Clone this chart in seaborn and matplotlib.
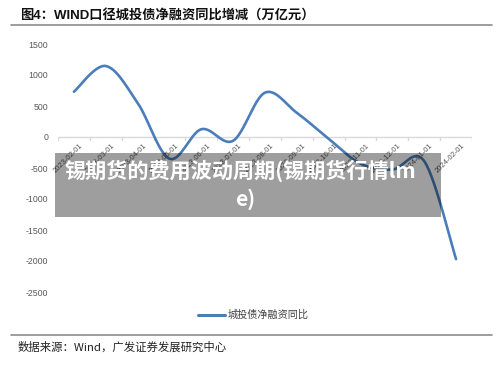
import numpy as np
import pandas as pd
import matplotlib
matplotlib.use("Agg")
import matplotlib.pyplot as plt
import seaborn as sns
from matplotlib.lines import Line2D
from matplotlib.patches import Rectangle

sns.set_theme(style="white")
plt.rcParams['font.family'] = ['Liberation Sans', 'Noto Sans CJK SC', 'DejaVu Sans']

# ---- data ----
dates = ["2023-02-01", "2023-03-01", "2023-04-01", "2023-05-01", "2023-06-01",
         "2023-07-01", "2023-08-01", "2023-09-01", "2023-10-01", "2023-11-01",
         "2023-12-01", "2024-01-01", "2024-02-01"]
values = [730, 1145, 550, -350, 125, -60, 715, 390, -30, -430, -525, -390, -1970]
yticks = [1500, 1000, 500, 0, -500, -1000, -1500, -2000, -2500]
series_name = "城投债净融资同比"
title = "图4：WIND口径城投债净融资同比增减（万亿元）"
source = "数据来源：Wind，广发证券发展研究中心"
overlay1 = "锡期货的费用波动周期(锡期货行情lm"
overlay2 = "e)"

# ---- smoothed curve (Excel-style Catmull-Rom through the data points) ----
def catmull_rom(x, y, n=30):
    x = np.asarray(x, float); y = np.asarray(y, float)
    px = np.concatenate([[x[0]], x, [x[-1]]])
    py = np.concatenate([[y[0]], y, [y[-1]]])
    xs, ys = [], []
    t = np.linspace(0, 1, n)
    for i in range(1, len(px) - 2):
        p0, p1, p2, p3 = (np.array([px[j], py[j]]) for j in (i - 1, i, i + 1, i + 2))
        c1 = p1 + (p2 - p0) / 6
        c2 = p2 - (p3 - p1) / 6
        b = ((1 - t) ** 3)[:, None] * p1 + (3 * (1 - t) ** 2 * t)[:, None] * c1 \
            + (3 * (1 - t) * t ** 2)[:, None] * c2 + (t ** 3)[:, None] * p2
        xs.append(b[:, 0]); ys.append(b[:, 1])
    return np.concatenate(xs), np.concatenate(ys)

xpos = np.arange(len(dates))
sx, sy = catmull_rom(xpos, values)
df = pd.DataFrame({"x": sx, "y": sy})

W, H = 500, 372
fig = plt.figure(figsize=(W / 100, H / 100), dpi=100)
fig.patch.set_facecolor("white")

ax = fig.add_axes([58 / W, 1 - 292 / H, (472 - 58) / W, (292 - 44) / H])
sns.lineplot(data=df, x="x", y="y", ax=ax, color="#4a7ebb", linewidth=1.9,
             sort=False, estimator=None)

ax.set_xlim(-0.5, len(dates) - 0.5)
ax.set_ylim(-2500, 1500)
ax.set_yticks(yticks)
ax.set_yticklabels([str(v) for v in yticks])
ax.set_xlabel(""); ax.set_ylabel("")
for s in ax.spines.values():
    s.set_visible(False)
ax.tick_params(axis="y", length=0, pad=7, labelsize=6.3, labelcolor="#595959")

# x axis at zero
ax.axhline(0, color="#d9d9d9", linewidth=1.0, zorder=1)
ax.set_xticks(xpos)
ax.set_xticklabels([])
for i, d in enumerate(dates):
    ax.annotate(d, xy=(i, 0), xytext=(4, -4), textcoords="offset points",
                rotation=45, ha="right", va="top", rotation_mode="anchor",
                fontsize=5.5, color="#595959")
for b in np.arange(-0.5, len(dates), 1.0):
    ax.plot([b, b], [0, -45], color="#d9d9d9", linewidth=1.0, zorder=1)
ax.tick_params(axis="x", length=0)

# legend
fig.add_artist(Line2D([198 / W, 225 / W], [1 - 315 / H] * 2, color="#4a7ebb", linewidth=2.2))
fig.text(228 / W, 1 - 315 / H, series_name, fontsize=7.3, color="#404040",
         va="center", ha="left", family=['Noto Sans CJK SC'])

# title and source
fig.text(20 / W, 1 - 15 / H, title, fontsize=9.5, color="#111111", va="center", ha="left",
         fontweight="bold", family=['Liberation Sans', 'Noto Sans CJK SC'])
fig.add_artist(Line2D([11 / W, 492 / W], [1 - 25 / H] * 2, color="#8c8c8c", linewidth=1.2))
fig.add_artist(Line2D([11 / W, 492 / W], [1 - 335 / H] * 2, color="#8c8c8c", linewidth=1.2))
fig.text(18 / W, 1 - 347 / H, source, fontsize=8.2, color="#222222", va="center", ha="left",
         family=['Noto Sans CJK SC', 'Liberation Sans'])

# overlay banner
fig.add_artist(Rectangle((55 / W, 1 - 217 / H), (441 - 55) / W, (217 - 153) / H,
                         transform=fig.transFigure, facecolor="black", alpha=0.38,
                         edgecolor="none", zorder=5))
fig.text(240 / W, 1 - 171 / H, overlay1, fontsize=15.2, color="white", fontweight="bold",
         ha="center", va="center", zorder=6, family=['Noto Sans CJK SC', 'DejaVu Sans'])
fig.text(245 / W, 1 - 199 / H, overlay2, fontsize=15.2, color="white", fontweight="bold",
         ha="center", va="center", zorder=6, family=['Noto Sans CJK SC', 'DejaVu Sans'])

fig.savefig("out.png", dpi=100, facecolor="white")
